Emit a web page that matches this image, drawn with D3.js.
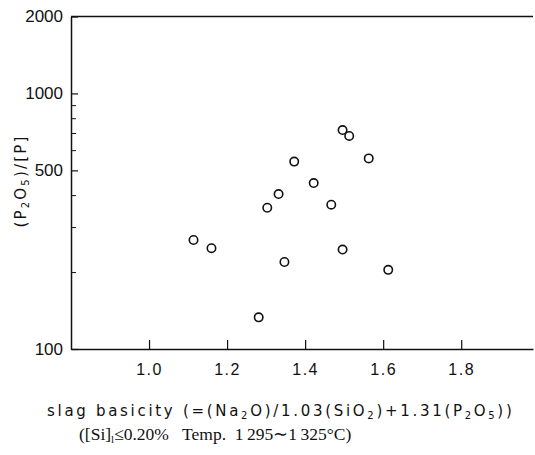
<!DOCTYPE html>
<html>
<head>
<meta charset="utf-8">
<script src="https://cdn.jsdelivr.net/npm/d3@7"></script>
<style>
  body { margin: 0; background: #fff; }
  svg text { fill: #111; }
</style>
</head>
<body>
<div id="chart"></div>
<script>
// slag basicity vs (P2O5)/[P]
var basicity = [1.496, 1.513, 1.563, 1.372, 1.422, 1.332, 1.467, 1.303, 1.114, 1.160, 1.496, 1.347, 1.613, 1.281];
var ratio    = [719, 682, 557, 541, 446, 404, 367, 357, 267, 248, 245, 219, 204, 133];
var xTicks = [1.0, 1.2, 1.4, 1.6, 1.8];
var yLabelTicks = [100, 500, 1000, 2000];
var yMinorTicks = [200, 300, 400, 600, 700, 800, 900];

(function () {
    var width = 535, height = 455;
    var plotLeft = 71, plotTop = 16.5, plotBottom = 349, plotRight = 533;

    var svg = d3.select('#chart').append('svg')
        .attr('width', width)
        .attr('height', height);

    var x = d3.scaleLinear().domain([0.8, 1.984]).range([plotLeft, plotRight]);
    var y = d3.scaleLog().domain([100, 2000]).range([plotBottom, plotTop]);

    //frame top line (no right side)
    svg.append('line')
        .attr('x1', plotLeft).attr('x2', plotRight)
        .attr('y1', plotTop).attr('y2', plotTop)
        .attr('stroke', '#111').attr('stroke-width', 1.5);

    //x axis
    var axisX = svg.append('g')
        .attr('transform', 'translate(0,' + plotBottom + ')')
        .call(d3.axisBottom(x)
            .tickValues(xTicks)
            .tickSizeInner(-9)
            .tickSizeOuter(0)
            .tickPadding(15)
            .tickFormat(d3.format('.1f')));
    axisX.select('.domain').attr('stroke', '#111').attr('stroke-width', 1.5);
    axisX.selectAll('.tick line').attr('stroke', '#111').attr('stroke-width', 1.2);
    axisX.selectAll('text')
        .attr('font-family', 'Liberation Sans, sans-serif')
        .attr('font-size', 16)
        .attr('letter-spacing', 1.5)
        .attr('fill', '#111');

    //y axis, labelled ticks
    var axisY = svg.append('g')
        .attr('transform', 'translate(' + plotLeft + ',0)')
        .call(d3.axisLeft(y)
            .tickValues(yLabelTicks)
            .tickSizeInner(-7)
            .tickSizeOuter(0)
            .tickPadding(8)
            .tickFormat(d3.format('d')));
    axisY.select('.domain').attr('stroke', '#111').attr('stroke-width', 1.5);
    axisY.selectAll('.tick line').attr('stroke', '#111').attr('stroke-width', 1.2);
    axisY.selectAll('text')
        .attr('font-family', 'Liberation Sans, sans-serif')
        .attr('font-size', 17)
        .attr('fill', '#111');

    //y axis, minor ticks
    var minorY = svg.append('g')
        .attr('transform', 'translate(' + plotLeft + ',0)')
        .call(d3.axisLeft(y)
            .tickValues(yMinorTicks)
            .tickSizeInner(-5)
            .tickSizeOuter(0)
            .tickFormat(''));
    minorY.select('.domain').remove();
    minorY.selectAll('.tick line').attr('stroke', '#111').attr('stroke-width', 1);

    //points
    svg.append('g')
        .selectAll('circle')
        .data(basicity)
        .enter()
        .append('circle')
        .attr('cx', function (d) { return x(d); })
        .attr('cy', function (d, i) { return y(ratio[i]); })
        .attr('r', 4.2)
        .attr('fill', 'none')
        .attr('stroke', '#111')
        .attr('stroke-width', 1.6);

    //y title
    var yTitle = svg.append('text')
        .attr('transform', 'translate(26,181) rotate(-90)')
        .attr('text-anchor', 'middle')
        .attr('font-family', 'DejaVu Sans, sans-serif')
        .attr('font-size', 15)
        .attr('letter-spacing', 2.2);
    yTitle.append('tspan').text('(P');
    yTitle.append('tspan').attr('font-size', 10).attr('dy', 3).text('2');
    yTitle.append('tspan').attr('dy', -3).text('O');
    yTitle.append('tspan').attr('font-size', 10).attr('dy', 3).text('5');
    yTitle.append('tspan').attr('dy', -3).text(')/[P]');

    //x title, line 1
    var xTitle = svg.append('text')
        .attr('x', 47).attr('y', 416)
        .attr('font-family', 'DejaVu Sans, sans-serif')
        .attr('font-size', 15)
        .attr('letter-spacing', 2.7);
    xTitle.append('tspan').text('slag basicity (=(Na');
    xTitle.append('tspan').attr('font-size', 10).attr('dy', 3).text('2');
    xTitle.append('tspan').attr('dy', -3).text('O)/1.03(SiO');
    xTitle.append('tspan').attr('font-size', 10).attr('dy', 3).text('2');
    xTitle.append('tspan').attr('dy', -3).text(')+1.31(P');
    xTitle.append('tspan').attr('font-size', 10).attr('dy', 3).text('2');
    xTitle.append('tspan').attr('dy', -3).text('O');
    xTitle.append('tspan').attr('font-size', 10).attr('dy', 3).text('5');
    xTitle.append('tspan').attr('dy', -3).text('))');

    //x title, line 2
    var xSub = svg.append('text')
        .attr('x', 79).attr('y', 440)
        .attr('font-family', 'Liberation Serif, serif')
        .attr('font-size', 17.5);
    xSub.append('tspan').text('([Si]');
    xSub.append('tspan').attr('font-size', 11).attr('dy', 3).text('l');
    xSub.append('tspan').attr('dy', -3).text('\u22640.20%\u00a0\u00a0\u00a0Temp.\u00a0\u00a01\u2009295\u223c1\u2009325\u00b0C)');
}());
</script>
</body>
</html>
